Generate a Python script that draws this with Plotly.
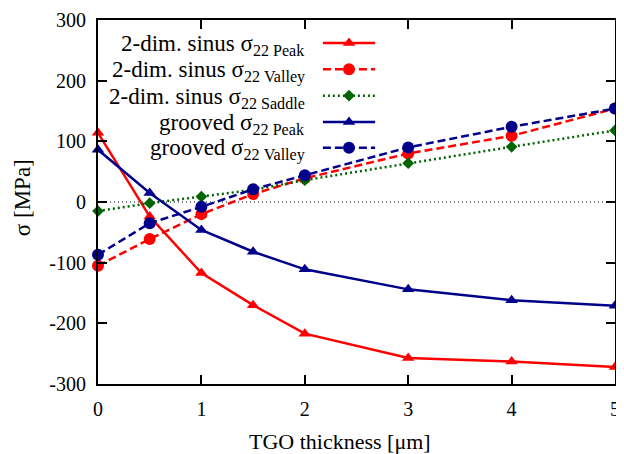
import plotly.graph_objects as go

thickness = [0, 0.5, 1, 1.5, 2, 3, 4, 5]
sinus_peak = [114, -24, -117, -170, -217, -257, -263, -272]
sinus_valley = [-105, -61, -20, 13, 39, 80, 109, 154]
sinus_saddle = [-15, -2, 9, 20, 36, 64, 91, 118]
grooved_peak = [86, 15, -46, -82, -111, -144, -162, -171]
grooved_valley = [-87, -35, -8, 21, 44, 90, 124, 154]

x_ticks = [0, 1, 2, 3, 4, 5]
y_ticks = [-300, -200, -100, 0, 100, 200, 300]
y_ticktext = ["-300", "-200", "-100", "0", "100", "200", "300"]
x_title = "TGO thickness [μm]"
y_title = "σ [MPa]"

names = [
    "2-dim. sinus σ<sub>22 Peak</sub>",
    "2-dim. sinus σ<sub>22 Valley</sub>",
    "2-dim. sinus σ<sub>22 Saddle</sub>",
    "grooved σ<sub>22 Peak</sub>",
    "grooved σ<sub>22 Valley</sub>",
]
series = [sinus_peak, sinus_valley, sinus_saddle, grooved_peak, grooved_valley]
colors = ["#ff0000", "#ff0000", "#006400", "#00008b", "#00008b"]
dashes = ["solid", "8px,4px", "2px,3px", "solid", "8px,4px"]
symbols = ["triangle-up", "circle", "diamond", "triangle-up", "circle"]
sizes = [11, 12, 9, 11, 12]

SERIF = "Liberation Serif"
tick_font = dict(family=SERIF, size=20, color="black")

fig = go.Figure()

# zero line
fig.add_trace(go.Scatter(x=[0, 5], y=[0, 0], mode="lines",
                         line=dict(color="black", width=1, dash="1px,3px"),
                         showlegend=False, hoverinfo="skip"))

for n, s, c, d, sy, sz in zip(names, series, colors, dashes, symbols, sizes):
    fig.add_trace(go.Scatter(x=thickness, y=s, mode="lines+markers", name=n,
                             line=dict(color=c, width=2.5, dash=d),
                             marker=dict(symbol=sy, size=sz, color=c),
                             showlegend=False, cliponaxis=False))

# manual legend (samples on an overlay axis in 0..1 units)
row_y = [0.937, 0.865, 0.792, 0.720, 0.649]
x0, x1 = 0.435, 0.536
for i, (n, c, d, sy, sz) in enumerate(zip(names, colors, dashes, symbols, sizes)):
    fig.add_trace(go.Scatter(x=[x0, (x0 + x1) / 2, x1], y=[row_y[i]] * 3,
                             xaxis="x2", yaxis="y2", mode="lines",
                             line=dict(color=c, width=2.5, dash=d),
                             showlegend=False, hoverinfo="skip"))
    fig.add_trace(go.Scatter(x=[(x0 + x1) / 2], y=[row_y[i]],
                             xaxis="x2", yaxis="y2", mode="markers",
                             marker=dict(symbol=sy, size=sz, color=c),
                             showlegend=False, hoverinfo="skip"))
    fig.add_annotation(x=0.405, y=row_y[i] - 0.006, xref="x2", yref="y2",
                       text=n, showarrow=False, xanchor="right", yanchor="middle",
                       font=dict(family=SERIF, size=23, color="black"))

# axis titles as annotations (placed like the reference)
fig.add_annotation(x=0.468, y=0, xref="paper", yref="paper", yshift=-57,
                   text=x_title, showarrow=False, xanchor="center", yanchor="middle",
                   font=dict(family=SERIF, size=22, color="black"))
fig.add_annotation(x=-0.146, y=0.512, xref="paper", yref="paper", textangle=-90,
                   text=y_title, showarrow=False, xanchor="center", yanchor="middle",
                   font=dict(family=SERIF, size=23, color="black"))

# page body has an 8px margin, so the figure is shrunk by 8px and margins shifted
fig.update_layout(
    template="none",
    width=616, height=446,
    margin=dict(l=90, r=9, t=12, b=70),
    paper_bgcolor="white", plot_bgcolor="white",
    font=tick_font,
    xaxis=dict(range=[0, 5], tickvals=x_ticks, ticks="inside", ticklen=9,
               tickwidth=1.5, tickcolor="black", showline=True, linecolor="black",
               linewidth=2, mirror="ticks", showgrid=False, zeroline=False,
               tickfont=tick_font, ticklabelstandoff=6, automargin=False),
    yaxis=dict(range=[-300, 300], tickvals=y_ticks, ticktext=y_ticktext,
               ticks="inside", ticklen=9, tickwidth=1.5, tickcolor="black",
               showline=True, linecolor="black", linewidth=2, mirror="ticks",
               showgrid=False, zeroline=False, tickfont=tick_font,
               ticklabelstandoff=6, automargin=False),
    xaxis2=dict(range=[0, 1], overlaying="x", visible=False, anchor="y2"),
    yaxis2=dict(range=[0, 1], overlaying="y", visible=False, anchor="x2"),
)

fig.write_html("out.html")
